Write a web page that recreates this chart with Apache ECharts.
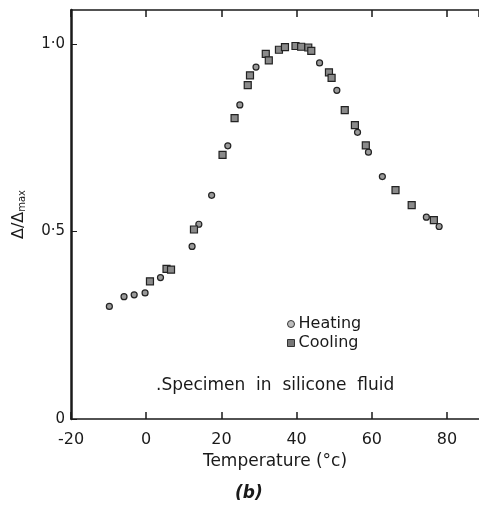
<!DOCTYPE html>
<html>
<head>
<meta charset="utf-8">
<script src="https://cdn.jsdelivr.net/npm/echarts@6/dist/echarts.min.js"></script>
<style>
  html, body { margin: 0; padding: 0; background: #fff; }
  #chart { width: 479px; height: 506px; }
</style>
</head>
<body>
<div id="chart"></div>
<script>
// Temperature (°C) and normalised Δ/Δmax, heating runs
const heatingT = [-9.8, -5.9, -3.2, -0.3, 3.8, 12.2, 14.0, 17.4, 21.7, 24.9, 29.2, 46.1, 50.7, 56.2, 59.1, 62.8, 74.5, 77.9];
const heatingR = [0.300, 0.326, 0.331, 0.336, 0.377, 0.460, 0.519, 0.596, 0.728, 0.837, 0.938, 0.949, 0.876, 0.764, 0.711, 0.646, 0.538, 0.513];

// Cooling runs
const coolingT = [1.0, 5.4, 6.6, 12.7, 20.3, 23.5, 27.0, 27.6, 31.8, 32.6, 35.3, 36.9, 39.7, 41.2, 43.1, 43.9, 48.6, 49.3, 52.8, 55.5, 58.4, 66.3, 70.6, 76.5];
const coolingR = [0.367, 0.400, 0.398, 0.505, 0.704, 0.802, 0.890, 0.916, 0.973, 0.956, 0.984, 0.991, 0.994, 0.992, 0.990, 0.981, 0.924, 0.909, 0.823, 0.783, 0.729, 0.610, 0.570, 0.530];

// Axis tick labels
const xTickLabels = { '-20': '-20', '0': '0', '20': '20', '40': '40', '60': '60', '80': '80' };
const yTickLabels = { '0': '0', '0.5': '0·5', '1': '1·0' };

const FONT = 'DejaVu Sans';
const INK = '#1a1a1a';

const pairs = (xs, ys) => xs.map((x, i) => [x, ys[i]]);

const chart = echarts.init(document.getElementById('chart'), null, { renderer: 'canvas' });

chart.setOption({
  backgroundColor: '#ffffff',
  animation: false,
  grid: { left: 71, right: 0, top: 10, bottom: 87 },
  legend: {
    orient: 'vertical',
    left: 282,
    top: 311,
    itemGap: 3,
    itemWidth: 7,
    itemHeight: 7,
    textStyle: { fontFamily: FONT, fontSize: 16, color: INK, padding: [0, 0, 0, -1] },
    data: [
      { name: 'Heating', icon: 'circle', itemStyle: { color: '#bdbdbd', borderColor: '#333', borderWidth: 1 } },
      { name: 'Cooling', icon: 'rect', itemStyle: { color: '#777', borderColor: '#333', borderWidth: 1 } }
    ]
  },
  xAxis: [
    {
      type: 'value',
      min: -20,
      max: 88.5,
      interval: 20,
      position: 'bottom',
      name: 'Temperature (°c)',
      nameLocation: 'middle',
      nameGap: 33,
      nameTextStyle: { fontFamily: FONT, fontSize: 17, color: INK },
      axisLine: { show: true, onZero: false, lineStyle: { color: INK, width: 1.5 } },
      axisTick: { show: true, inside: true, length: 7, lineStyle: { color: INK, width: 1.5 } },
      axisLabel: {
        margin: 13,
        fontFamily: FONT,
        fontSize: 16,
        color: INK,
        showMaxLabel: false,
        formatter: v => xTickLabels[String(v)] || ''
      },
      splitLine: { show: false }
    },
    {
      type: 'value',
      min: -20,
      max: 88.5,
      interval: 20,
      position: 'top',
      axisLine: { show: true, onZero: false, lineStyle: { color: INK, width: 1.5 } },
      axisTick: { show: true, inside: true, length: 7, lineStyle: { color: INK, width: 1.5 } },
      axisLabel: { show: false },
      splitLine: { show: false }
    }
  ],
  yAxis: {
    type: 'value',
    min: 0,
    max: 1.09,
    interval: 0.5,
    position: 'left',
    name: '{a|Δ/Δ}{s|max}',
    nameLocation: 'middle',
    nameRotate: 90,
    nameGap: 44,
    nameTextStyle: {
      fontFamily: FONT,
      color: INK,
      rich: {
        a: { fontFamily: FONT, fontSize: 16, color: INK },
        s: { fontFamily: FONT, fontSize: 10, color: INK, verticalAlign: 'bottom', padding: [6, 0, 0, 0] }
      }
    },
    axisLine: { show: true, onZero: false, lineStyle: { color: INK, width: 2.5 } },
    axisTick: { show: true, inside: true, length: 6, lineStyle: { color: INK, width: 1 } },
    axisLabel: {
      margin: 6,
      fontFamily: FONT,
      fontSize: 15,
      color: INK,
      showMaxLabel: false,
      formatter: v => yTickLabels[String(v)] || ''
    },
    splitLine: { show: false }
  },
  graphic: [
    {
      type: 'text',
      left: 156,
      top: 377,
      style: { text: '.Specimen  in  silicone  fluid', font: '17px "DejaVu Sans"', fill: INK }
    },
    {
      type: 'text',
      left: 235,
      top: 485,
      style: { text: '(b)', font: 'italic bold 17px "DejaVu Sans"', fill: INK }
    }
  ],
  series: [
    {
      name: 'Heating',
      type: 'scatter',
      xAxisIndex: 0,
      symbol: 'circle',
      symbolSize: 6,
      itemStyle: { color: '#9a9a9a', borderColor: '#222', borderWidth: 1.2, opacity: 1 },
      data: pairs(heatingT, heatingR)
    },
    {
      name: 'Cooling',
      type: 'scatter',
      xAxisIndex: 0,
      symbol: 'rect',
      symbolSize: 7,
      itemStyle: { color: '#8a8a8a', borderColor: '#222', borderWidth: 1.2, opacity: 1 },
      data: pairs(coolingT, coolingR)
    }
  ]
});
</script>
</body>
</html>
